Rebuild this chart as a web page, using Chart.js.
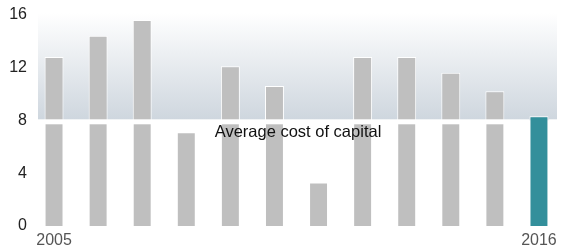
<!DOCTYPE html>
<html lang="en">
  <head>
    <meta charset="UTF-8" />
    <title>Cost of capital</title>
    <script src="https://cdn.jsdelivr.net/npm/chart.js"></script>
    <style>
      html, body { margin: 0; padding: 0; background: #fff; }
      #wrap { position: relative; width: 574px; height: 252px; }
    </style>
  </head>
  <body>
    <div id="wrap"><canvas id="chart"></canvas></div>

    <script>
      const years = ["2005", "2006", "2007", "2008", "2009", "2010", "2011", "2012", "2013", "2014", "2015", "2016"];
      const values = [12.8, 14.4, 15.6, 7.1, 12.1, 10.6, 3.3, 12.8, 12.8, 11.6, 10.2, 8.3];
      const yTicks = [0, 4, 8, 12, 16];
      const avgCost = 8;
      const avgLabel = "Average cost of capital";

      const barColors = values.map((v, i) => (i === values.length - 1 ? "#338f9b" : "#bfbfbf"));

      // gradient panel above the average line
      const bandPlugin = {
        id: "band",
        beforeDatasetsDraw(chart) {
          const { ctx, chartArea, scales } = chart;
          const top = scales.y.getPixelForValue(16) - 2;
          const bot = scales.y.getPixelForValue(avgCost);
          const left = chartArea.left + 6;
          const right = chartArea.right - 4;
          const g = ctx.createLinearGradient(0, top, 0, bot);
          g.addColorStop(0, "#ffffff");
          g.addColorStop(1, "#ced6de");
          ctx.save();
          ctx.fillStyle = g;
          ctx.fillRect(left, top, right - left, bot - top);
          ctx.restore();
        },
        afterDatasetsDraw(chart) {
          const { ctx, chartArea, scales } = chart;
          const y = scales.y.getPixelForValue(avgCost);
          const meta = chart.getDatasetMeta(0);
          const last = meta.data[meta.data.length - 1];
          const lw = last.width;
          ctx.save();
          ctx.fillStyle = "#ffffff";
          ctx.fillRect(chartArea.left + 6, y - 1, last.x - lw / 2 - chartArea.left - 6, 5);
          ctx.fillRect(last.x + lw / 2, y - 1, chartArea.right - 4 - last.x - lw / 2, 5);
          ctx.fillStyle = "#111";
          ctx.font = "16.5px 'Liberation Sans', Arial, sans-serif";
          ctx.textAlign = "center";
          ctx.textBaseline = "middle";
          ctx.fillText(avgLabel, 298, y + 12);
          ctx.restore();
        },
      };

      new Chart(document.getElementById("chart"), {
        type: "bar",
        data: {
          labels: years,
          datasets: [
            {
              data: values,
              backgroundColor: barColors,
              borderColor: "#ffffff",
              borderWidth: 1,
              borderSkipped: "bottom",
              categoryPercentage: 1,
              barPercentage: 0.43,
            },
          ],
        },
        options: {
          responsive: true,
          maintainAspectRatio: false,
          animation: false,
          layout: { padding: { top: 13, right: 13, left: 0, bottom: 0 } },
          plugins: { legend: { display: false }, tooltip: { enabled: false } },
          scales: {
            x: {
              grid: { display: false, drawTicks: false },
              border: { display: false },
              afterFit: (s) => { s.height = 26; },
              ticks: {
                autoSkip: false,
                maxRotation: 0,
                padding: 5,
                color: "#555",
                font: { family: "'Liberation Sans', Arial, sans-serif", size: 16 },
                callback: (v, i) => (i === 0 || i === years.length - 1 ? years[i] : ""),
              },
            },
            y: {
              min: 0,
              max: 16,
              afterBuildTicks: (s) => { s.ticks = yTicks.map((v) => ({ value: v })); },
              afterFit: (s) => { s.width = 32; },
              grid: { display: false, drawTicks: false },
              border: { display: false },
              ticks: {
                padding: 5,
                color: "#222",
                font: { family: "'Liberation Sans', Arial, sans-serif", size: 16 },
              },
            },
          },
        },
        plugins: [bandPlugin],
      });
    </script>
  </body>
</html>
